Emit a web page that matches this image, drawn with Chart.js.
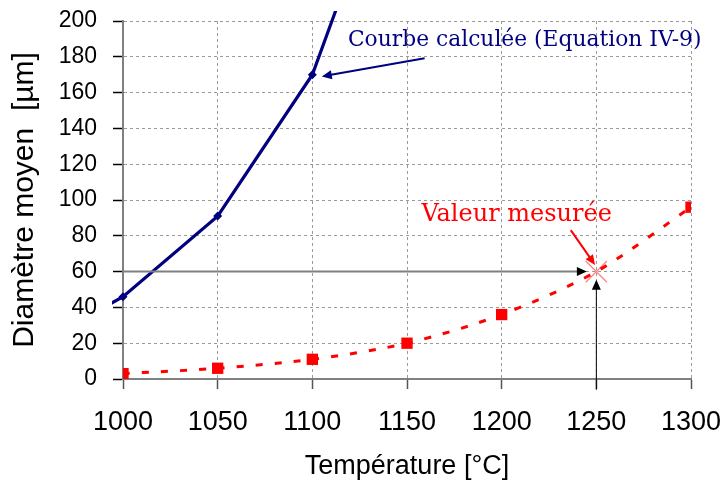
<!DOCTYPE html>
<html><head><meta charset="utf-8">
<script src="https://cdn.jsdelivr.net/npm/chart.js@4/dist/chart.umd.min.js"></script>
<style>html,body{margin:0;padding:0;background:#fff}canvas{display:block}</style>
</head><body>
<canvas id="c" width="724" height="483"></canvas>
<script>
// ---- data ----
const temperatures = [1000, 1050, 1100, 1150, 1200, 1250, 1300];
const measuredDiameter = [3, 6, 11, 20, 36, 60, 96];
const measuredMarkerShown = [true, true, true, true, true, false, true];
const calcTemperatures = [950, 1000, 1050, 1100, 1150];
const calcDiameter = [16, 46, 91, 170, 315];
const calcMarkerShown = [false, true, true, true, false];
const measuredPoint = [{x: 1250, y: 60}];
const xRange = [1000, 1300, 50];
const yRange = [0, 200, 20];
const xTitle = 'Température [°C]';
const yTitle = 'Diamètre moyen  [µm]';
// annotation anchors (data units)
const arrowFrom = [[1000, 60], [1250, -6], [1159.3, 179.2], [1236.5, 83.2]];
const arrowTo   = [[1245, 60], [1250, 55.5], [1105, 169], [1249.3, 63.7]];
const noteTexts = ['Courbe calculée (Equation IV-9)', 'Valeur mesurée'];
const noteAnchors = [[1118.8, 185.9], [1157.6, 88.4]];

// ---- styles ----
const arrowStyles = [
  {color: '#808080', width: 2, head: '#000000'},
  {color: '#000000', width: 1, head: '#000000'},
  {color: '#000080', width: 2, head: '#000080'},
  {color: '#ff0000', width: 2, head: '#ff0000'}
];
const noteStyles = [
  {color: '#000080', font: '21.8px "DejaVu Serif"'},
  {color: '#ff0000', font: '24px "DejaVu Serif"'}
];

const annotationPlugin = {
  id: 'annot',
  afterDatasetsDraw(chart) {
    const ctx = chart.ctx, xs = chart.scales.x, ys = chart.scales.y;
    ctx.save();
    arrowFrom.forEach((f, i) => {
      const t = arrowTo[i], s = arrowStyles[i];
      const x1 = xs.getPixelForValue(f[0]), y1 = ys.getPixelForValue(f[1]);
      const x2 = xs.getPixelForValue(t[0]), y2 = ys.getPixelForValue(t[1]);
      const ang = Math.atan2(y2 - y1, x2 - x1);
      const hl = 10, hw = 4.5;
      ctx.strokeStyle = s.color; ctx.lineWidth = s.width; ctx.setLineDash([]);
      ctx.beginPath(); ctx.moveTo(x1, y1);
      ctx.lineTo(x2 - Math.cos(ang) * hl * 0.8, y2 - Math.sin(ang) * hl * 0.8); ctx.stroke();
      ctx.fillStyle = s.head;
      ctx.beginPath();
      ctx.moveTo(x2, y2);
      ctx.lineTo(x2 - Math.cos(ang) * hl - Math.sin(ang) * hw, y2 - Math.sin(ang) * hl + Math.cos(ang) * hw);
      ctx.lineTo(x2 - Math.cos(ang) * hl + Math.sin(ang) * hw, y2 - Math.sin(ang) * hl - Math.cos(ang) * hw);
      ctx.closePath(); ctx.fill();
    });
    noteTexts.forEach((txt, i) => {
      const a = noteAnchors[i], s = noteStyles[i];
      ctx.font = s.font; ctx.fillStyle = s.color;
      ctx.textAlign = 'left'; ctx.textBaseline = 'alphabetic';
      ctx.fillText(txt, xs.getPixelForValue(a[0]), ys.getPixelForValue(a[1]));
    });
    ctx.restore();
  }
};

const FONT = '"Liberation Sans", Arial, sans-serif';

new Chart(document.getElementById('c'), {
  type: 'line',
  data: {
    datasets: [
      {
        label: 'Valeur mesurée',
        data: measuredPoint,
        showLine: false,
        pointStyle: 'crossRot',
        pointRadius: 15,
        pointBorderColor: '#ff8080',
        pointBorderWidth: 1.2,
        order: 3
      },
      {
        label: 'Mesures',
        data: temperatures.map((t, i) => ({x: t, y: measuredDiameter[i]})),
        borderColor: '#ff0000',
        backgroundColor: '#ff0000',
        borderWidth: 3,
        borderDash: [7, 12],
        tension: 0.3,
        pointStyle: 'rect',
        pointRadius: measuredMarkerShown.map(s => s ? 8 : 0),
        pointBorderWidth: 0,
        pointBackgroundColor: '#ff0000',
        order: 2
      },
      {
        label: 'Courbe calculée',
        data: calcTemperatures.map((t, i) => ({x: t, y: calcDiameter[i]})),
        borderColor: '#000080',
        backgroundColor: '#000080',
        borderWidth: 3.2,
        tension: 0,
        pointStyle: 'rectRot',
        pointRadius: calcMarkerShown.map(s => s ? 4.5 : 0),
        pointBorderWidth: 0,
        pointBackgroundColor: '#000080',
        clip: {left: 11, top: 10, right: 0, bottom: 0},
        order: 1
      }
    ]
  },
  options: {
    responsive: false,
    animation: false,
    events: [],
    layout: {padding: {left: 0, right: 33, top: 21, bottom: 0}},
    plugins: {legend: {display: false}, tooltip: {enabled: false}},
    scales: {
      x: {
        type: 'linear',
        min: xRange[0], max: xRange[1],
        ticks: {stepSize: xRange[2], color: '#000', font: {family: FONT, size: 27}, padding: 17, maxRotation: 0, autoSkip: false,
                callback: v => String(v)},
        grid: {color: '#9a9a9a', lineWidth: 1, tickLength: 10, tickColor: '#555', tickWidth: 1.5, tickBorderDash: []},
        border: {color: '#808080', width: 2, dash: [3, 3]},
        title: {display: true, text: xTitle, color: '#000', font: {family: FONT, size: 27}, padding: {top: 0, bottom: 0}},
        afterFit(s) { s.height = 104; s.paddingLeft = 0; s.paddingRight = 0; }
      },
      y: {
        type: 'linear',
        min: yRange[0], max: yRange[1],
        ticks: {stepSize: yRange[2], color: '#000', font: {family: FONT, size: 23}, padding: 16,
                callback: v => String(v)},
        grid: {color: '#9a9a9a', lineWidth: 1, tickLength: 10, tickColor: '#000', tickWidth: 1.5, tickBorderDash: []},
        border: {color: '#808080', width: 2, dash: [3, 3]},
        title: {display: true, text: yTitle, color: '#000', font: {family: FONT, size: 30}, padding: {top: 7, bottom: 0}},
        afterFit(s) { s.width = 123; s.paddingTop = 0; s.paddingBottom = 0; }
      }
    }
  },
  plugins: [annotationPlugin]
});
</script>
</body></html>
